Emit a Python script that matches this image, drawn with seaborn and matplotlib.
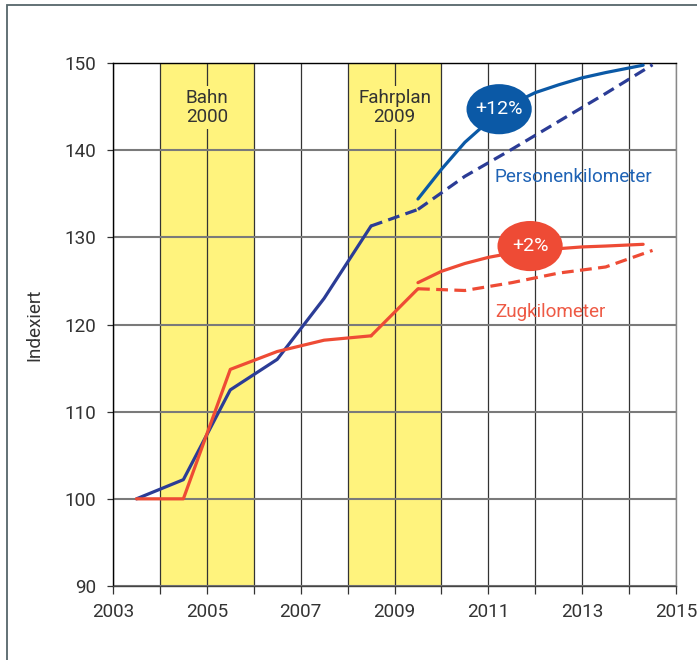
import matplotlib
matplotlib.use("Agg")
import matplotlib.pyplot as plt
import seaborn as sns
from matplotlib.patches import Ellipse, Rectangle
from matplotlib import font_manager

# data
hist_years = [2003.5, 2004.5, 2005.5, 2006.5, 2007.5, 2008.5]
pkm_hist = [100.0, 102.2, 112.5, 116.0, 123.0, 131.3]
zkm_hist = [100.0, 100.0, 114.85, 116.9, 118.2, 118.7]

# last actual step into the Fahrplan 2009 period
step_years = [2008.5, 2009.5]
pkm_step = [131.3, 133.2]   # dashed
zkm_step = [118.7, 124.1]   # solid

# trend (dashed) continuation
trend_years = [2009.5, 2010.5, 2011.5, 2012.5, 2013.5, 2014.5]
pkm_trend = [133.2, 137.0, 140.1, 143.3, 146.5, 149.8]
zkm_trend = [124.1, 123.9, 124.8, 125.9, 126.6, 128.5]

# forecast (solid) curves
fc_years = [2009.5, 2010.0, 2010.5, 2011.0, 2011.5, 2012.0, 2012.5, 2013.0, 2013.5, 2014.3]
pkm_fc = [134.4, 137.8, 140.9, 143.3, 145.3, 146.6, 147.5, 148.3, 148.9, 149.75]
zkm_fc = [124.8, 126.1, 127.0, 127.7, 128.2, 128.5, 128.7, 128.9, 129.0, 129.2]

bands = [(2004, 2006, "Bahn\n2000"), (2008, 2010, "Fahrplan\n2009")]
x_ticks = list(range(2003, 2016))
y_ticks = [90, 100, 110, 120, 130, 140, 150]

sns.set_style("white")
names = {f.name for f in font_manager.fontManager.ttflist}
fam = "Roboto" if "Roboto" in names else "DejaVu Sans"
plt.rcParams["font.family"] = [fam, "DejaVu Sans"]

navy = "#2b3c96"
blue = "#0b59a6"
red = "#ee4b35"
yellow = "#fff37d"
txt = "#333333"
fs = 13.6
dash = (0, (3.7, 2.0))

fig = plt.figure(figsize=(6.97, 6.6), dpi=100)
ax = fig.add_axes([113 / 697, 74 / 660, 563 / 697, 523 / 660])

for x0, x1, label in bands:
    ax.axvspan(x0, x1, color=yellow, zorder=0, lw=0)
    ax.text((x0 + x1) / 2, 144.9, label, ha="center", va="center", fontsize=fs,
            color=txt, linespacing=1.12, zorder=3,
            bbox=dict(facecolor=yellow, edgecolor="none", pad=2))

lw = 2.3
sns.lineplot(x=hist_years, y=pkm_hist, color=navy, lw=lw, ax=ax, sort=False, zorder=3)
sns.lineplot(x=hist_years, y=zkm_hist, color=red, lw=lw, ax=ax, sort=False, zorder=3)
sns.lineplot(x=step_years, y=zkm_step, color=red, lw=lw, ax=ax, sort=False, zorder=3)
sns.lineplot(x=step_years, y=pkm_step, color=navy, lw=lw, ax=ax, sort=False, zorder=3,
             linestyle=dash)
sns.lineplot(x=trend_years, y=pkm_trend, color=navy, lw=lw, ax=ax, sort=False, zorder=3,
             linestyle=dash)
sns.lineplot(x=trend_years, y=zkm_trend, color=red, lw=lw, ax=ax, sort=False, zorder=3,
             linestyle=dash)
sns.lineplot(x=fc_years, y=pkm_fc, color=blue, lw=lw, ax=ax, sort=False, zorder=3)
sns.lineplot(x=fc_years, y=zkm_fc, color=red, lw=lw, ax=ax, sort=False, zorder=3)

# percentage bubbles
for cx, cy, col, label in [(2011.23, 144.7, blue, "+12%"), (2011.89, 129.0, red, "+2%")]:
    ax.add_patch(Ellipse((cx, cy), 1.39, 5.75, facecolor=col, edgecolor="none", zorder=4))
    ax.text(cx, cy, label, ha="center", va="center", color="white", fontsize=14, zorder=5)

ax.text(2011.14, 136.9, "Personenkilometer", color="#1f63b5", fontsize=fs,
        ha="left", va="center")
ax.text(2011.14, 121.45, "Zugkilometer", color="#ee5a45", fontsize=fs,
        ha="left", va="center")

ax.set_xlim(2003, 2015)
ax.set_ylim(90, 150)
ax.set_xticks(x_ticks)
ax.set_xticklabels([str(y) if y % 2 == 1 else "" for y in x_ticks])
ax.set_yticks(y_ticks)
ax.set_axisbelow(True)
ax.xaxis.grid(True, color="#333333", lw=0.9)
ax.yaxis.grid(True, color="#7a7a7a", lw=1.5)
ax.tick_params(axis="x", length=6, width=0.9, color="#333333", direction="out",
               labelsize=fs, labelcolor=txt, pad=6, bottom=True)
ax.tick_params(axis="y", length=4, width=0.9, color="#333333", direction="out",
               labelsize=fs, labelcolor=txt, pad=8, left=True)
for side, c in [("top", "black"), ("left", "black"), ("bottom", "#444444"), ("right", "#888888")]:
    ax.spines[side].set_visible(True)
    ax.spines[side].set_color(c)
    ax.spines[side].set_linewidth(1.0)

ax.set_xlabel("")
ax.set_ylabel("Indexiert", fontsize=fs, color=txt, labelpad=15)

# outer frame of the figure (open to the right and bottom)
fig.add_artist(Rectangle((7 / 697, -0.2), 2.0, 0.2 + 1 - 4.5 / 660,
                         transform=fig.transFigure, fill=False,
                         edgecolor="#56666a", lw=1.3))

fig.savefig("out.png", dpi=100)
